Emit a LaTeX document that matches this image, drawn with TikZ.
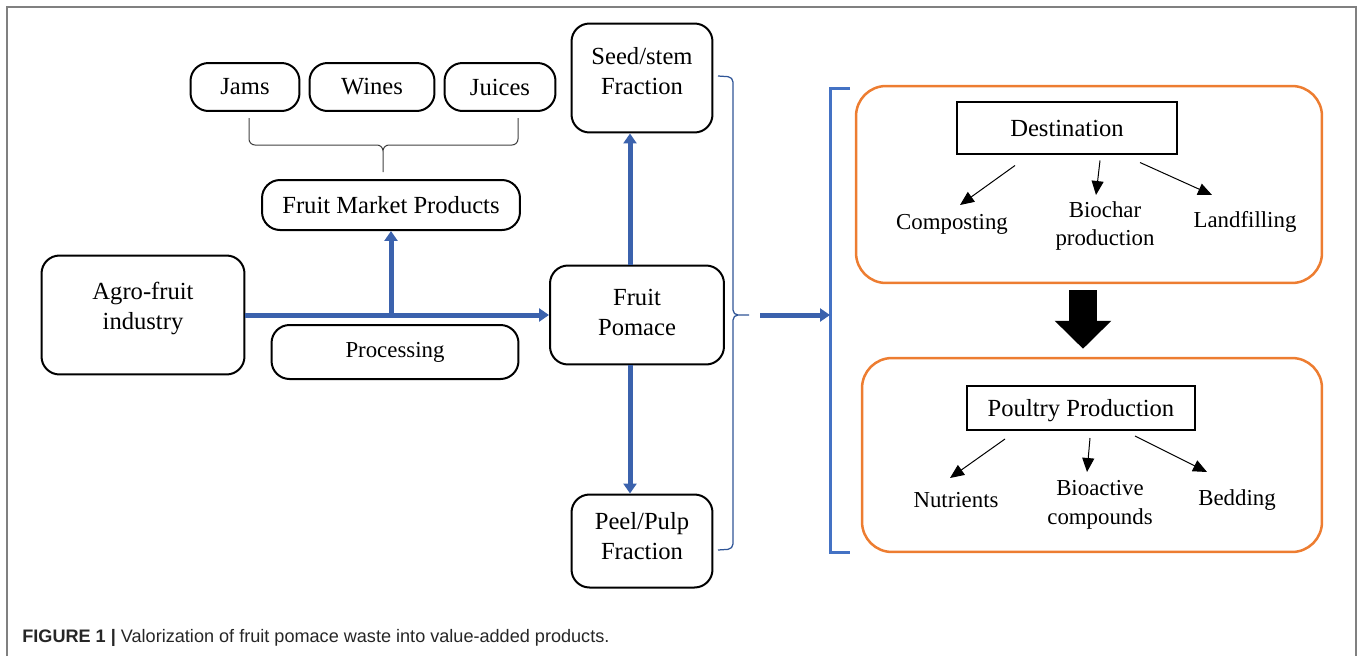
\documentclass[tikz,border=0pt]{standalone}
\usepackage{fontspec}
\setmainfont{Liberation Serif}
\newfontfamily\captionsans{Liberation Sans}
\usetikzlibrary{arrows.meta,calc}
\definecolor{pomaceblue}{RGB}{59,98,173}
\definecolor{bracketblue}{RGB}{68,114,196}
\definecolor{bracedark}{RGB}{47,85,151}
\definecolor{boxorange}{RGB}{237,125,49}
\definecolor{framegray}{RGB}{128,128,128}

\begin{document}
\begin{tikzpicture}[x=0.02cm, y=-0.02cm,
    stage/.style={draw, line width=0.04cm, rounded corners=0.36cm, align=center,
                  font=\fontsize{14}{17}\selectfont, inner sep=0pt},
    group/.style={draw=boxorange, line width=0.05cm, rounded corners=0.6cm, inner sep=0pt},
    headbox/.style={draw, line width=0.04cm, font=\fontsize{14}{17}\selectfont, inner sep=0pt},
    leaf/.style={align=center, font=\fontsize{13}{16.5}\selectfont, inner sep=1pt},
    flow/.style={pomaceblue, line width=0.1cm, -{Triangle[length=0.2cm, width=0.26cm]}},
    pointer/.style={line width=0.02cm, -{Triangle[length=0.28cm, width=0.24cm]}}]
    \useasboundingbox (0,0) rectangle (1358,656);
    \draw[framegray, line width=0.04cm] (7,656) -- (7,7) -- (1356,7) -- (1356,656);

    % left part
    \node[stage, minimum width=4.06cm, minimum height=2.38cm, text depth=0.38cm] (agro) at (143,315) {Agro-fruit\\industry};
    \node[stage, minimum width=4.94cm, minimum height=1.08cm, font=\fontsize{13}{16}\selectfont] (proc) at (395,352) {Processing};
    \node[stage, minimum width=5.16cm, minimum height=1.0cm] (fmp) at (391,205) {Fruit Market Products};
    \node[stage, minimum width=2.18cm, minimum height=0.96cm] (jams) at (245,87) {Jams};
    \node[stage, minimum width=2.5cm, minimum height=0.96cm] (wines) at (372,87) {Wines};
    \node[stage, minimum width=2.22cm, minimum height=0.96cm] (juices) at (500,87) {Juices};
    \node[stage, minimum width=3.48cm, minimum height=1.98cm, text depth=0.12cm] (pomace) at (637,315) {Fruit\\Pomace};
    \node[stage, minimum width=2.82cm, minimum height=2.18cm, text depth=0.28cm] (seed) at (642,78) {Seed/stem\\Fraction};
    \node[stage, minimum width=2.82cm, minimum height=1.86cm, text depth=0.2cm] (peel) at (642,541) {Peel/Pulp\\Fraction};

    % braces
    \draw[black!75, line width=0.02cm, rounded corners=0.12cm]
      (249,118) -- (249,145) -- (383,145) -- (383,172)
      (518,118) -- (518,145) -- (383,145) -- (383,172);
    \draw[bracedark, line width=0.025cm, rounded corners=0.1cm]
      (718,76) -- (733,77) -- (733,315) -- (749,315)
      (718,550) -- (733,549) -- (733,315) -- (749,315);
    \coordinate (bracetip) at (760,315);
    \draw[bracketblue, line width=0.06cm] (850,88) -- (830,88) -- (830,552) -- (850,552);
    \coordinate (bracketmid) at (830,315);

    % blue flows
    \coordinate (upstart) at ([xshift=-0.14cm]pomace.north);
    \coordinate (downstart) at ([xshift=-0.14cm]pomace.south);
    \path[flow]
      (agro.east) edge (pomace.west)
      (fmp.south |- agro.east) edge (fmp.south)
      (upstart) edge (upstart |- seed.south)
      (downstart) edge (downstart |- peel.north)
      (bracetip) edge (bracketmid);

    % right part
    \node[group, minimum width=9.32cm, minimum height=3.94cm] (destgroup) at (1089,184.5) {};
    \node[group, minimum width=9.2cm, minimum height=3.88cm] (poultrygroup) at (1092,455) {};

    \node[headbox, minimum width=4.4cm, minimum height=1.06cm] (dest) at (1067,128) {Destination};
    \node[leaf] (compost) at (952,224) {Composting};
    \node[leaf] (biochar) at (1105,226) {Biochar\\production};
    \node[leaf] (landfill) at (1245,222) {Landfilling};
    \path[pointer]
      ($(dest.south)+(-52,10)$) edge ($(compost.center)+(8,-19)$)
      ($(dest.south)+(33,5)$) edge ($(biochar.center)+(-9,-31)$)
      ($(dest.south)+(73,7)$) edge ($(landfill.center)+(-33,-27)$);

    \draw[line width=0.56cm, -{Triangle[length=0.56cm, width=1.1cm]}]
      ($(destgroup.south)+(-6,6)$) -- ($(poultrygroup.north)+(-9,-8)$);

    \node[headbox, minimum width=4.58cm, minimum height=0.88cm, text depth=0pt] (poultry) at (1081,408) {Poultry Production};
    \node[leaf] (nutr) at (956,500) {Nutrients};
    \node[leaf] (bioact) at (1100,505) {Bioactive\\compounds};
    \node[leaf] (bedding) at (1237,500) {Bedding};
    \path[pointer]
      ($(poultry.south)+(-76,8)$) edge ($(nutr.center)+(-6,-22)$)
      ($(poultry.south)+(9,7)$) edge ($(bioact.center)+(-13,-33)$)
      ($(poultry.south)+(54,5)$) edge ($(bedding.center)+(-30,-28)$);

    % caption
    \node[anchor=west, inner sep=0pt, text=black!85,
          font=\captionsans\fontsize{10.3}{12}\selectfont] (caption) at (22,638)
      {{\bfseries FIGURE 1 |} Valorization of fruit pomace waste into value-added products.};
\end{tikzpicture}
\end{document}
